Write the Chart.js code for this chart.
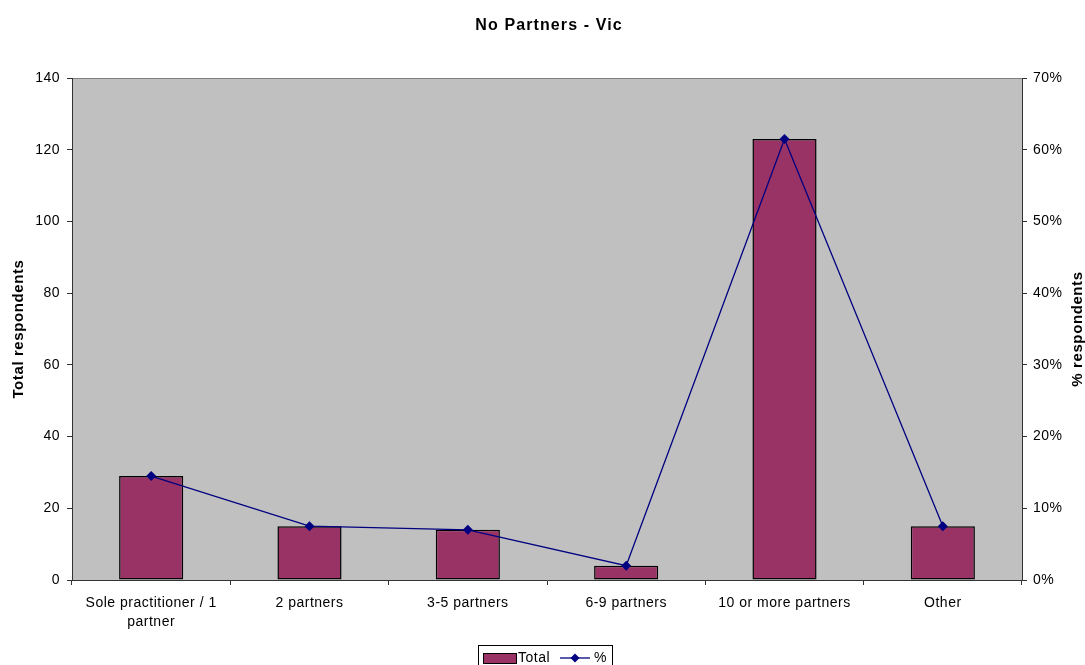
<!DOCTYPE html>
<html><head><meta charset="utf-8">
<script src="https://cdn.jsdelivr.net/npm/chart.js@4"></script>
<style>html,body{margin:0;padding:0;background:#fff;overflow:hidden}#wrap{width:1085px;height:665px}</style>
</head><body><div id="wrap"><canvas id="c" width="1085" height="665"></canvas></div>
<script>
const chartTitle = "No Partners - Vic";
const categories = [["Sole practitioner / 1", "partner"], "2 partners", "3-5 partners", "6-9 partners", "10 or more partners", "Other"];
const totalValues = [29, 15, 14, 4, 123, 15];
const percentValues = [14.5, 7.5, 7, 2, 61.5, 7.5];
const seriesLabels = ["Total", "%"];
const leftAxisTitle = "Total respondents";
const rightAxisTitle = "% respondents";
const leftMax = 140, leftStep = 20;
const rightMax = 70, rightStep = 10;

const FONT = "'Liberation Sans', Arial, sans-serif";
const BAR = '#993366', LINE = '#000080', AXIS = '#333333';

const canvas = document.getElementById('c');
const ctx0 = canvas.getContext('2d');
// wider glyph spacing, like the hinted Windows text of the original
const origFill = ctx0.fillText;
ctx0.fillText = function (t, x, y, mw) {
  const f = this.font || '';
  if (/bold 16px/.test(f)) this.letterSpacing = '1.1px';
  else if (/bold/.test(f)) this.letterSpacing = '0.6px';
  else this.letterSpacing = '0.5px';
  return mw === undefined ? origFill.call(this, t, x, y) : origFill.call(this, t, x, y, mw);
};

const plotBg = {
  id: 'plotBg',
  beforeDraw(chart) {
    const {ctx, chartArea: a} = chart;
    ctx.save();
    ctx.fillStyle = '#C0C0C0';
    ctx.fillRect(a.left, a.top, a.right - a.left, a.bottom - a.top);
    ctx.strokeStyle = '#808080';
    ctx.lineWidth = 1;
    ctx.beginPath();
    ctx.moveTo(a.left, a.top + 0.5);
    ctx.lineTo(a.right, a.top + 0.5);
    ctx.stroke();
    ctx.restore();
  }
};

const extras = {
  id: 'extras',
  afterDraw(chart) {
    const {ctx, chartArea: a} = chart;
    ctx.save();
    ctx.font = 'bold 15px ' + FONT;
    ctx.fillStyle = '#000';
    ctx.textAlign = 'center';
    ctx.textBaseline = 'middle';
    ctx.translate(1078, (a.top + a.bottom) / 2);
    ctx.rotate(-Math.PI / 2);
    ctx.fillText(rightAxisTitle, 0, 0);
    ctx.restore();

    ctx.save();
    ctx.strokeStyle = '#000';
    ctx.lineWidth = 1;
    ctx.fillStyle = '#fff';
    ctx.fillRect(479, 646, 133, 25);
    ctx.strokeRect(478.5, 645.5, 134, 25);
    const ds0 = chart.data.datasets[0], ds1 = chart.data.datasets[1];
    ctx.fillStyle = ds0.backgroundColor;
    ctx.fillRect(483, 653, 33, 10);
    ctx.strokeRect(483.5, 653.5, 33, 10);
    ctx.font = '14px ' + FONT;
    ctx.fillStyle = '#000';
    ctx.textAlign = 'left';
    ctx.textBaseline = 'middle';
    ctx.fillText(ds0.label, 518, 658);
    ctx.strokeStyle = ds1.borderColor;
    ctx.lineWidth = 1.3;
    ctx.beginPath();
    ctx.moveTo(560, 658); ctx.lineTo(590, 658);
    ctx.stroke();
    ctx.fillStyle = ds1.borderColor;
    ctx.beginPath();
    ctx.moveTo(575, 653.5); ctx.lineTo(579.5, 658); ctx.lineTo(575, 662.5); ctx.lineTo(570.5, 658);
    ctx.closePath(); ctx.fill();
    ctx.fillStyle = '#000';
    ctx.fillText(ds1.label, 594, 658);
    ctx.restore();
  }
};

new Chart(canvas, {
  data: {
    labels: categories,
    datasets: [
      {
        type: 'bar', label: seriesLabels[0], data: totalValues, yAxisID: 'y',
        backgroundColor: BAR, borderColor: '#000', borderWidth: 1.5, borderSkipped: false,
        barPercentage: 0.405, categoryPercentage: 1, order: 1
      },
      {
        type: 'line', label: seriesLabels[1], data: percentValues, yAxisID: 'y1',
        borderColor: LINE, backgroundColor: LINE, borderWidth: 1.3, tension: 0,
        pointStyle: 'rectRot', pointRadius: 5, pointBackgroundColor: LINE,
        pointBorderColor: LINE, pointBorderWidth: 0, order: 0
      }
    ]
  },
  options: {
    responsive: false, animation: false, devicePixelRatio: 1,
    layout: {padding: {left: 13, right: 0, top: 0, bottom: 0}},
    plugins: {
      legend: {display: false},
      tooltip: {enabled: false},
      title: {
        display: true, text: chartTitle, color: '#000',
        font: {family: FONT, size: 16, weight: 'bold', lineHeight: 1.2},
        padding: {top: 16, bottom: 42.8}
      }
    },
    scales: {
      x: {
        offset: true,
        grid: {display: true, offset: true, drawOnChartArea: false, drawTicks: true, tickLength: 5, color: AXIS},
        border: {display: true, color: AXIS, width: 1},
        ticks: {color: '#000', font: {family: FONT, size: 14, lineHeight: 19 / 14}, padding: 9, maxRotation: 0, autoSkip: false},
        afterFit(s) { s.height = 85; }
      },
      y: {
        position: 'left', min: 0, max: leftMax,
        ticks: {stepSize: leftStep, color: '#000', font: {family: FONT, size: 14}, padding: 7},
        grid: {display: true, drawOnChartArea: false, drawTicks: true, tickLength: 5, color: AXIS},
        border: {display: true, color: AXIS, width: 1},
        title: {display: true, text: leftAxisTitle, color: '#000',
          font: {family: FONT, size: 15, weight: 'bold', lineHeight: 12 / 15}, padding: {top: 0, bottom: 0}},
        afterFit(s) { s.width = 59; }
      },
      y1: {
        position: 'right', min: 0, max: rightMax,
        ticks: {stepSize: rightStep, color: '#000', font: {family: FONT, size: 14}, padding: 6,
          callback: v => v + '%'},
        grid: {display: true, drawOnChartArea: false, drawTicks: true, tickLength: 5, color: AXIS},
        border: {display: true, color: AXIS, width: 1},
        afterFit(s) { s.width = 63; }
      }
    }
  },
  plugins: [plotBg, extras]
});
</script>
</body></html>
